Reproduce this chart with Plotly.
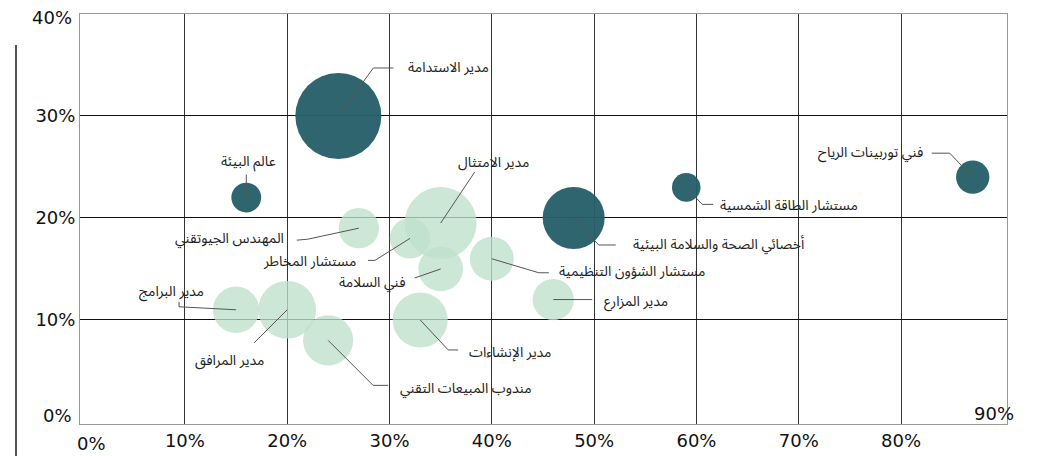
import plotly.graph_objects as go
import math

# ---------------- data ----------------
jobs = ["مدير الاستدامة", "عالم البيئة", "مستشار الطاقة الشمسية", "فني توربينات الرياح",
        "أخصائي الصحة والسلامة البيئية", "المهندس الجيوتقني", "مستشار المخاطر", "مدير الامتثال",
        "فني السلامة", "مستشار الشؤون التنظيمية", "مدير المزارع", "مدير الإنشاءات",
        "مدير البرامج", "مدير المرافق", "مندوب المبيعات التقني"]
x_pct = [25, 16, 59, 87, 48, 27, 32, 35, 35, 40, 46, 33, 15, 20, 24]
y_pct = [30, 22, 23, 24, 20, 19, 18, 19.5, 15, 16, 12, 10, 11, 11, 8]
bubble_value = [100, 12, 11, 15, 52, 22, 22, 70, 27, 26, 23, 41, 29, 45, 34]
group = ["dark", "dark", "dark", "dark", "dark", "light", "light", "light",
         "light", "light", "light", "light", "light", "light", "light"]

x_ticks = [10, 20, 30, 40, 50, 60, 70, 80]
y_ticks = [10, 20, 30, 40]

# ---------------- layout constants ----------------
# page body has an 8px default margin, so the figure is drawn at (8, 8)
OFF = 8
W, H = 1040 - OFF, 456 - OFF
ML, MR, MT, MB = 80 - OFF, 33, 14 - OFF, 32
XR = [-0.25, 90.35]
YR = [-0.2, 40.0]
PW, PH = W - ML - MR, H - MT - MB
PXX = PW / (XR[1] - XR[0])
PXY = PH / (YR[1] - YR[0])
MAX_D = 86

DARK = "rgba(38,95,104,0.96)"
LIGHT = "rgba(190,224,203,0.78)"

# label layout: (leader points as pixel offsets from centre, label offset, anchor)
label_layout = [
    ([(35, -48), (55, -48)], (68, -48), "left"),
    ([(0, -23)], (2, -36), "center"),
    ([(16, 17), (27, 17)], (32, 18), "left"),
    ([(-23, -24), (-41, -24)], (-48, -25), "right"),
    ([(25, 27), (42, 27)], (57, 27), "left"),
    ([(-51, 11), (-62, 12)], (-73, 10), "right"),
    ([(-35, 22), (-42, 22)], (-52, 23), "right"),
    ([(34, -51)], (53, -61), "center"),
    ([(-26, 9)], (-34, 14), "right"),
    ([(47, 14), (57, 14)], (65, 13), "left"),
    ([(39, 0)], (49, 2), "left"),
    ([(28, 30), (38, 30)], (47, 33), "left"),
    ([(-57, -3), (-57, -8)], (-65, -18), "center"),
    ([(-33, 33)], (-58, 51), "center"),
    ([(45, 45), (60, 45)], (70, 48), "left"),
]

fig = go.Figure()

vmax = max(bubble_value)
for g, col in (("light", LIGHT), ("dark", DARK)):
    idx = [i for i in range(len(jobs)) if group[i] == g]
    fig.add_trace(go.Scatter(
        x=[x_pct[i] for i in idx], y=[y_pct[i] for i in idx],
        mode="markers", text=[jobs[i] for i in idx], hoverinfo="text",
        marker=dict(size=[MAX_D * math.sqrt(bubble_value[i] / vmax) for i in idx],
                    sizemode="diameter", color=col, opacity=1, line=dict(width=0)),
        showlegend=False))

shapes = []
annotations = []
for i, name in enumerate(jobs):
    pts, (lx, ly), anchor = label_layout[i]
    cx, cy = x_pct[i], y_pct[i]
    path = f"M {cx} {cy}"
    for dx, dy in pts:
        path += f" L {cx + dx / PXX} {cy - dy / PXY}"
    shapes.append(dict(type="path", xref="x", yref="y", path=path,
                       line=dict(color="#555", width=1), layer="above"))
    annotations.append(dict(x=cx, y=cy, xref="x", yref="y", text=name, showarrow=False,
                            xshift=lx, yshift=-ly, xanchor=anchor, yanchor="middle",
                            font=dict(size=14, color="#222",
                                      family="Noto Sans Arabic, DejaVu Sans, sans-serif")))

# decorative vertical rule on the far left
shapes.append(dict(type="line", xref="paper", yref="paper",
                   x0=(16 - 80) / PW, x1=(16 - 80) / PW,
                   y0=-(MB) / PH, y1=(H - MB - (45 - OFF)) / PH,
                   line=dict(color="#555", width=2)))

tick_font = dict(size=18, color="#111", family="DejaVu Sans, sans-serif")
# edge tick labels (the chart pulls the outermost labels inside)
annotations.append(dict(x=0, y=0, xref="x", yref="paper", text="0%", showarrow=False,
                        xshift=9, yshift=-19, xanchor="center", yanchor="middle", font=tick_font))
annotations.append(dict(x=90, y=0, xref="x", yref="paper", text="90%", showarrow=False,
                        xshift=-9, yshift=11, xanchor="center", yanchor="middle", font=tick_font))
annotations.append(dict(x=0, y=0, xref="paper", yref="y", text="0%", showarrow=False,
                        xshift=-6, yshift=6, xanchor="right", yanchor="middle", font=tick_font))
annotations.append(dict(x=0, y=y_ticks[-1], xref="paper", yref="y", text=f"{y_ticks[-1]}%",
                        showarrow=False, xshift=-6, yshift=-3, xanchor="right",
                        yanchor="middle", font=tick_font))

fig.update_layout(
    width=W, height=H,
    margin=dict(l=ML, r=MR, t=MT, b=MB, pad=0),
    paper_bgcolor="white", plot_bgcolor="white",
    shapes=shapes, annotations=annotations,
    xaxis=dict(range=XR, tickvals=x_ticks, ticktext=[f"{v}%" for v in x_ticks],
               showgrid=True, gridcolor="#333", gridwidth=1, zeroline=False,
               showline=True, linecolor="#999", linewidth=1, mirror=True, automargin=False,
               ticks="", tickfont=tick_font, fixedrange=True),
    yaxis=dict(range=YR, tickvals=y_ticks, ticktext=[f"{v}%" for v in y_ticks[:-1]] + [""],
               showgrid=True, gridcolor="#111", gridwidth=1, zeroline=False,
               showline=True, linecolor="#999", linewidth=1, mirror=True, automargin=False,
               ticks="", tickfont=tick_font, fixedrange=True),
)

fig.write_html("out.html")
